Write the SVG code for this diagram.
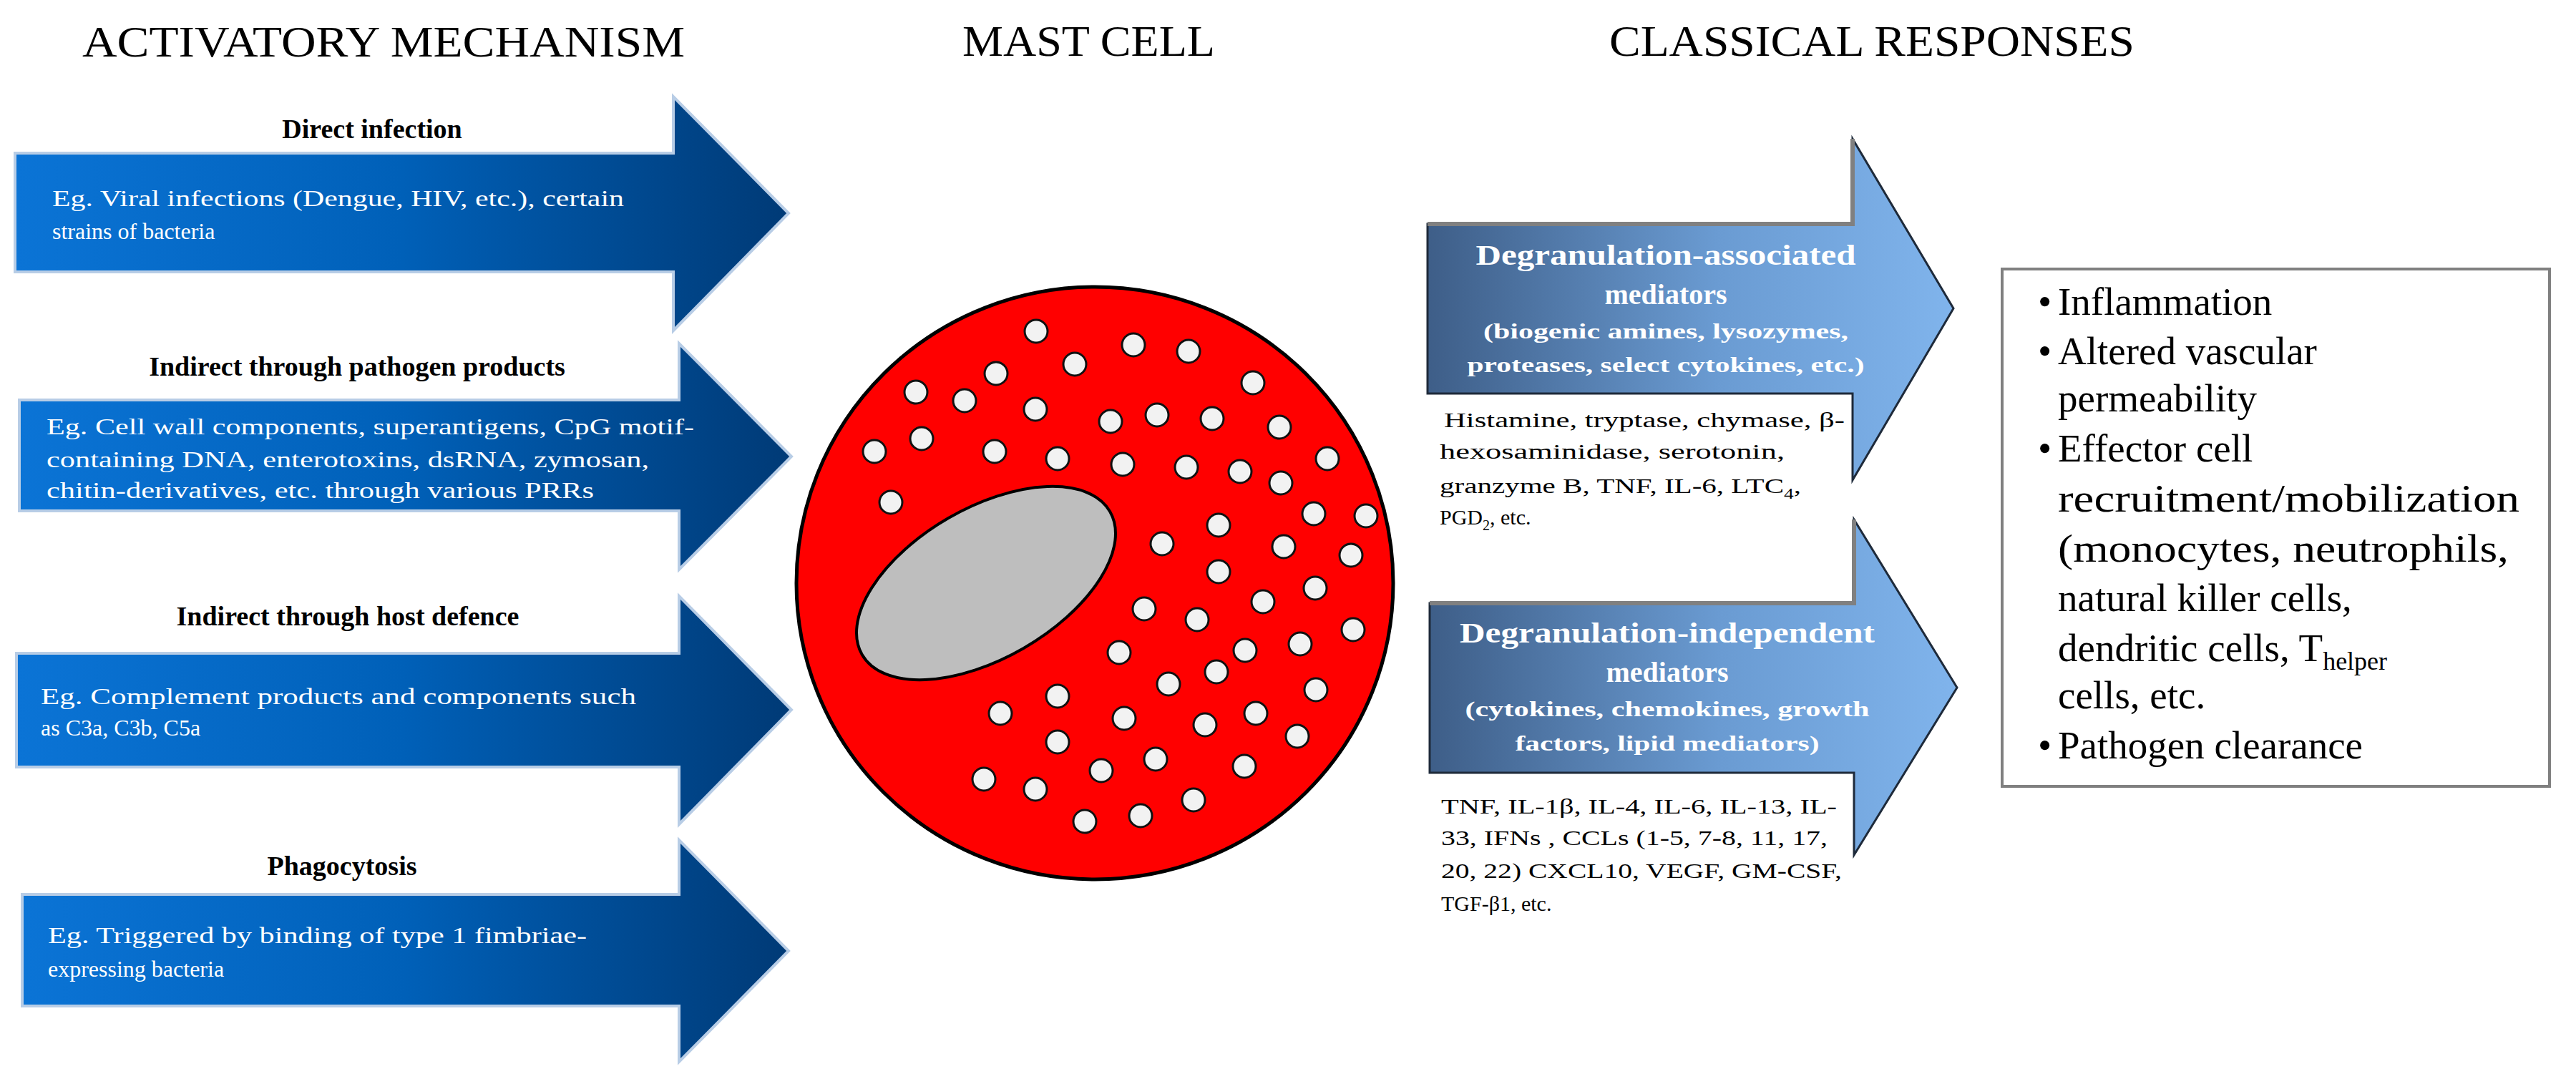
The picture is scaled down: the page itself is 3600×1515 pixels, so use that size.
<svg xmlns="http://www.w3.org/2000/svg" width="3600" height="1515" viewBox="0 0 3600 1515">
<defs>
<linearGradient id="gl" x1="0" y1="0" x2="1" y2="0"><stop offset="0" stop-color="#0b74d6"/><stop offset="0.5" stop-color="#0060b8"/><stop offset="1" stop-color="#003a76"/></linearGradient>
<linearGradient id="gr" x1="0" y1="0" x2="1" y2="0"><stop offset="0" stop-color="#3e5e88"/><stop offset="0.55" stop-color="#6a9bd2"/><stop offset="1" stop-color="#80b4ec"/></linearGradient>
<style>
text{font-family:"Liberation Serif","DejaVu Serif",serif}
.h{font-size:62px}
.t{font-size:38px;font-weight:bold;text-anchor:middle}
.w{font-size:32px;fill:#fff}
.rt{font-size:40px;font-weight:bold;fill:#fff;text-anchor:middle}
.rs{font-size:30px;font-weight:bold;fill:#fff;text-anchor:middle}
.s{font-size:30px}
.b{font-size:55px}
.la{fill:url(#gl);stroke:#b8cde6;stroke-width:4}
.ra{fill:url(#gr);stroke:#1e2a3a;stroke-width:3}
.dot{fill:#f2f2f2;stroke:#111;stroke-width:3}
</style>
</defs>
<g id="headings">
<text class="h" x="115" y="79" textLength="842" lengthAdjust="spacingAndGlyphs">ACTIVATORY MECHANISM</text>
<text class="h" x="1345" y="78" textLength="353" lengthAdjust="spacingAndGlyphs">MAST CELL</text>
<text class="h" x="2249" y="78" textLength="734" lengthAdjust="spacingAndGlyphs">CLASSICAL RESPONSES</text>
</g>
<g id="direct">
<path class="la" d="M21 214H941V135L1102 298L941 462V380H21Z"/>
<text class="t" x="520" y="193">Direct infection</text>
<text class="w" x="73" y="288" textLength="799" lengthAdjust="spacingAndGlyphs">Eg. Viral infections (Dengue, HIV, etc.), certain</text>
<text class="w" x="73" y="334">strains of bacteria</text>
</g>
<g id="pathogen">
<path class="la" d="M27 559H949V480L1106 638L949 796V714H27Z"/>
<text class="t" x="499" y="525">Indirect through pathogen products</text>
<text class="w" x="65" y="607" textLength="905" lengthAdjust="spacingAndGlyphs">Eg. Cell wall components, superantigens, CpG motif-</text>
<text class="w" x="65" y="653" textLength="842" lengthAdjust="spacingAndGlyphs">containing DNA, enterotoxins, dsRNA, zymosan,</text>
<text class="w" x="65" y="696" textLength="765" lengthAdjust="spacingAndGlyphs">chitin-derivatives, etc. through various PRRs</text>
</g>
<g id="host">
<path class="la" d="M23 913H949V833L1106 992L949 1152V1072H23Z"/>
<text class="t" x="486" y="874">Indirect through host defence</text>
<text class="w" x="57" y="984" textLength="832" lengthAdjust="spacingAndGlyphs">Eg. Complement products and components such</text>
<text class="w" x="57" y="1028">as C3a, C3b, C5a</text>
</g>
<g id="phago">
<path class="la" d="M31 1250H949V1174L1102 1329L949 1484V1406H31Z"/>
<text class="t" x="478" y="1223">Phagocytosis</text>
<text class="w" x="67" y="1318" textLength="753" lengthAdjust="spacingAndGlyphs">Eg. Triggered by binding of type 1 fimbriae-</text>
<text class="w" x="67" y="1365">expressing bacteria</text>
</g>
<g id="mastcell">
<ellipse cx="1530" cy="815" rx="417" ry="414" fill="#ff0000" stroke="#000" stroke-width="5"/>
<ellipse cx="1378" cy="815" rx="200" ry="105" transform="rotate(-30 1378 815)" fill="#bebebe" stroke="#000" stroke-width="4"/>
<g>
<circle class="dot" cx="1448" cy="463" r="16"/><circle class="dot" cx="1584" cy="482" r="16"/><circle class="dot" cx="1661" cy="491" r="16"/><circle class="dot" cx="1502" cy="509" r="16"/><circle class="dot" cx="1392" cy="522" r="16"/><circle class="dot" cx="1751" cy="535" r="16"/><circle class="dot" cx="1280" cy="548" r="16"/><circle class="dot" cx="1348" cy="560" r="16"/><circle class="dot" cx="1447" cy="572" r="16"/><circle class="dot" cx="1552" cy="589" r="16"/><circle class="dot" cx="1617" cy="580" r="16"/><circle class="dot" cx="1694" cy="585" r="16"/><circle class="dot" cx="1788" cy="597" r="16"/><circle class="dot" cx="1222" cy="631" r="16"/><circle class="dot" cx="1288" cy="613" r="16"/><circle class="dot" cx="1390" cy="631" r="16"/><circle class="dot" cx="1478" cy="641" r="16"/><circle class="dot" cx="1569" cy="649" r="16"/><circle class="dot" cx="1658" cy="653" r="16"/><circle class="dot" cx="1733" cy="659" r="16"/><circle class="dot" cx="1790" cy="675" r="16"/><circle class="dot" cx="1855" cy="641" r="16"/><circle class="dot" cx="1245" cy="702" r="16"/><circle class="dot" cx="1836" cy="718" r="16"/><circle class="dot" cx="1909" cy="721" r="16"/><circle class="dot" cx="1703" cy="734" r="16"/><circle class="dot" cx="1624" cy="760" r="16"/><circle class="dot" cx="1794" cy="764" r="16"/><circle class="dot" cx="1888" cy="776" r="16"/><circle class="dot" cx="1703" cy="799" r="16"/><circle class="dot" cx="1838" cy="822" r="16"/><circle class="dot" cx="1765" cy="841" r="16"/><circle class="dot" cx="1599" cy="851" r="16"/><circle class="dot" cx="1673" cy="866" r="16"/><circle class="dot" cx="1891" cy="880" r="16"/><circle class="dot" cx="1564" cy="912" r="16"/><circle class="dot" cx="1740" cy="909" r="16"/><circle class="dot" cx="1817" cy="900" r="16"/><circle class="dot" cx="1700" cy="939" r="16"/><circle class="dot" cx="1633" cy="956" r="16"/><circle class="dot" cx="1839" cy="964" r="16"/><circle class="dot" cx="1478" cy="973" r="16"/><circle class="dot" cx="1398" cy="997" r="16"/><circle class="dot" cx="1571" cy="1004" r="16"/><circle class="dot" cx="1684" cy="1013" r="16"/><circle class="dot" cx="1755" cy="997" r="16"/><circle class="dot" cx="1813" cy="1029" r="16"/><circle class="dot" cx="1478" cy="1037" r="16"/><circle class="dot" cx="1615" cy="1061" r="16"/><circle class="dot" cx="1539" cy="1077" r="16"/><circle class="dot" cx="1739" cy="1071" r="16"/><circle class="dot" cx="1375" cy="1089" r="16"/><circle class="dot" cx="1447" cy="1103" r="16"/><circle class="dot" cx="1668" cy="1118" r="16"/><circle class="dot" cx="1516" cy="1148" r="16"/><circle class="dot" cx="1594" cy="1140" r="16"/>
</g>
</g>
<g id="degran-assoc">
<path class="ra" d="M1995 313H2589V194L2730 431L2589 671V550H1995Z"/>
<path d="M1995 313H2589V194" fill="none" stroke="#808080" stroke-width="6"/>
<text class="rt" x="2328" y="370" textLength="531" lengthAdjust="spacingAndGlyphs">Degranulation-associated</text>
<text class="rt" x="2328" y="425">mediators</text>
<text class="rs" x="2328" y="473" textLength="510" lengthAdjust="spacingAndGlyphs">(biogenic  amines, lysozymes,</text>
<text class="rs" x="2328" y="520" textLength="555" lengthAdjust="spacingAndGlyphs">proteases, select cytokines, etc.)</text>
<text class="s" x="2018" y="597" textLength="560" lengthAdjust="spacingAndGlyphs">Histamine, tryptase, chymase, β-</text>
<text class="s" x="2012" y="641" textLength="482" lengthAdjust="spacingAndGlyphs">hexosaminidase, serotonin,</text>
<text class="s" x="2012" y="689" textLength="505" lengthAdjust="spacingAndGlyphs">granzyme B, TNF, IL-6, LTC<tspan font-size="20" dy="8">4</tspan><tspan dy="-8">,</tspan></text>
<text class="s" x="2012" y="733">PGD<tspan font-size="20" dy="8">2</tspan><tspan dy="-8">,  etc.</tspan></text>
</g>
<g id="degran-indep">
<path class="ra" d="M1998 843H2591V726L2735 961L2591 1195V1080H1998Z"/>
<path d="M1998 843H2591V726" fill="none" stroke="#808080" stroke-width="6"/>
<text class="rt" x="2330" y="898" textLength="580" lengthAdjust="spacingAndGlyphs">Degranulation-independent</text>
<text class="rt" x="2330" y="953">mediators</text>
<text class="rs" x="2330" y="1001" textLength="565" lengthAdjust="spacingAndGlyphs">(cytokines, chemokines, growth</text>
<text class="rs" x="2330" y="1049" textLength="425" lengthAdjust="spacingAndGlyphs">factors, lipid mediators)</text>
<text class="s" x="2014" y="1137" textLength="553" lengthAdjust="spacingAndGlyphs">TNF, IL-1β, IL-4, IL-6, IL-13, IL-</text>
<text class="s" x="2014" y="1181" textLength="540" lengthAdjust="spacingAndGlyphs">33, IFNs , CCLs (1-5, 7-8, 11, 17,</text>
<text class="s" x="2014" y="1227" textLength="560" lengthAdjust="spacingAndGlyphs">20, 22) CXCL10, VEGF, GM-CSF,</text>
<text class="s" x="2014" y="1273">TGF-β1, etc.</text>
</g>
<g id="responses">
<rect x="2798" y="376" width="765" height="723" fill="#fff" stroke="#808080" stroke-width="4"/>
<g class="b">
<text x="2848" y="440">•</text><text x="2876" y="440">Inflammation</text>
<text x="2848" y="509">•</text><text x="2876" y="509">Altered vascular</text>
<text x="2876" y="575">permeability</text>
<text x="2848" y="645">•</text><text x="2876" y="645">Effector cell</text>
<text x="2876" y="715" textLength="645" lengthAdjust="spacingAndGlyphs">recruitment/mobilization</text>
<text x="2876" y="785" textLength="630" lengthAdjust="spacingAndGlyphs">(monocytes, neutrophils,</text>
<text x="2876" y="854">natural killer cells,</text>
<text x="2876" y="924">dendritic cells, T<tspan font-size="36" dy="12">helper</tspan></text>
<text x="2876" y="990">cells, etc.</text>
<text x="2848" y="1060">•</text><text x="2876" y="1060">Pathogen clearance</text>
</g>
</g>
</svg>
